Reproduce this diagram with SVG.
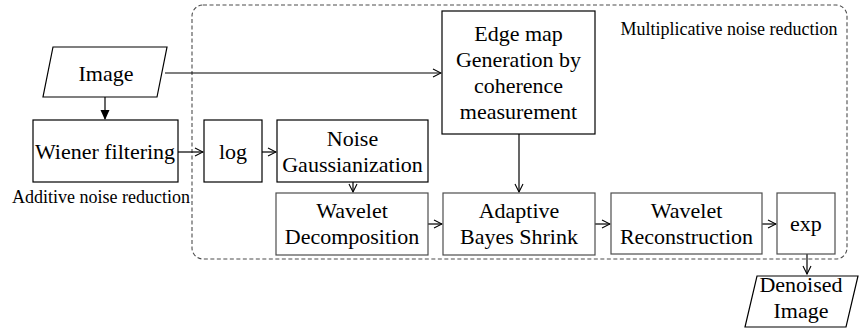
<svg xmlns="http://www.w3.org/2000/svg" width="860" height="328" viewBox="0 0 860 328">
<style>
text{font-family:"Liberation Serif","Times New Roman",serif;fill:#000;text-anchor:middle}
.t{font-size:22px}
.s{font-size:18px}
.b{fill:#fff;stroke:#000;stroke-width:1.2}
.g{fill:#fff;stroke:#4d4d4d;stroke-width:1.2}
.c{fill:none;stroke:#000;stroke-width:1.2}
.c2{fill:none;stroke:#333;stroke-width:1.2}
</style>
<defs>
<marker id="open" markerWidth="10" markerHeight="10" refX="9" refY="5" orient="auto" markerUnits="userSpaceOnUse">
<path d="M1,1 L9,5 L1,9" fill="none" stroke="#000" stroke-width="1.1"/>
</marker>
<marker id="solid" markerWidth="10" markerHeight="10" refX="9" refY="5" orient="auto" markerUnits="userSpaceOnUse">
<path d="M0,0.5 L10,5 L0,9.5 Z" fill="#000"/>
</marker>
</defs>
<g id="region">
<rect x="192" y="5" width="655" height="254" rx="11" ry="11" fill="none" stroke="#4d4d4d" stroke-width="1.1" stroke-dasharray="4,2.5"/>
<text class="s" x="729" y="35">Multiplicative noise reduction</text>
</g>
<g id="connectors">
<line class="c" x1="105" y1="97" x2="105" y2="119" marker-end="url(#solid)"/>
<line class="c" x1="165" y1="73" x2="441" y2="73" marker-end="url(#open)"/>
<line class="c" x1="178" y1="152" x2="203" y2="152" marker-end="url(#open)"/>
<line class="c" x1="262" y1="152" x2="276" y2="152" marker-end="url(#open)"/>
<line class="c" x1="519" y1="134" x2="519" y2="192" marker-end="url(#open)"/>
<line class="c" x1="353" y1="182" x2="353" y2="192" marker-end="url(#open)"/>
<line class="c" x1="428" y1="224" x2="442" y2="224" marker-end="url(#open)"/>
<line class="c" x1="595" y1="224" x2="610" y2="224" marker-end="url(#open)"/>
<line class="c" x1="762" y1="224" x2="776" y2="224" marker-end="url(#open)"/>
<line class="c" x1="807" y1="254" x2="807" y2="274" marker-end="url(#open)"/>
</g>
<g id="image">
<polygon class="b" points="53,47 167,47 157,97 43,97"/>
<text class="t" x="106" y="81">Image</text>
</g>
<g id="wiener">
<rect class="b" x="33" y="120" width="145" height="62"/>
<text class="t" x="105" y="159">Wiener filtering</text>
<text class="s" x="101" y="203">Additive noise reduction</text>
</g>
<g id="log">
<rect class="b" x="204" y="120" width="58" height="62"/>
<text class="t" x="233" y="159">log</text>
</g>
<g id="noise">
<rect class="b" x="277" y="120" width="151" height="62"/>
<text class="t" x="352.5" y="146">Noise</text>
<text class="t" x="352.5" y="172">Gaussianization</text>
</g>
<g id="edge">
<rect class="b" x="442" y="11" width="153" height="123"/>
<text class="t" x="518.5" y="41">Edge map</text>
<text class="t" x="518.5" y="67">Generation by</text>
<text class="t" x="518.5" y="93">coherence</text>
<text class="t" x="518.5" y="119">measurement</text>
</g>
<g id="wdec">
<rect class="g" x="276" y="193" width="152" height="62"/>
<text class="t" x="352" y="218">Wavelet</text>
<text class="t" x="352" y="244">Decomposition</text>
</g>
<g id="bayes">
<rect class="g" x="443" y="193" width="152" height="62"/>
<text class="t" x="519" y="218">Adaptive</text>
<text class="t" x="519" y="244">Bayes Shrink</text>
</g>
<g id="wrec">
<rect class="g" x="611" y="193" width="151" height="61"/>
<text class="t" x="686.5" y="218">Wavelet</text>
<text class="t" x="686.5" y="244">Reconstruction</text>
</g>
<g id="exp">
<rect class="g" x="777" y="193" width="58" height="61"/>
<text class="t" x="806" y="231">exp</text>
</g>
<g id="denoised">
<polygon class="b" points="757,276 858,276 846,327 745,327"/>
<text class="t" x="801" y="292">Denoised</text>
<text class="t" x="801" y="318">Image</text>
</g>
</svg>
